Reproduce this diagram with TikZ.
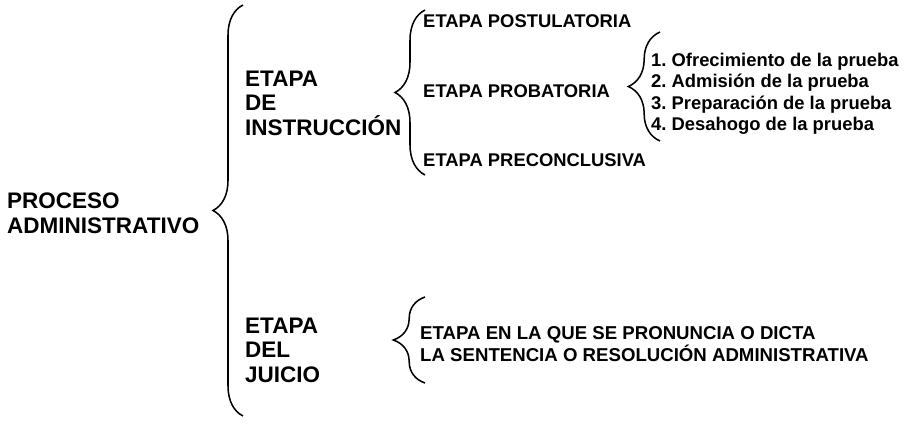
\documentclass[tikz,border=0pt]{standalone}
\usepackage{fontspec}
\setmainfont{Liberation Sans}
\frenchspacing
\usetikzlibrary{decorations.pathreplacing}
\usetikzlibrary{positioning}
\tikzset{brc/.style = {decorate, decoration = {brace, amplitude = #1}, line width = 1.3pt}}
\tikzset{biglbl/.style = {anchor = west, inner sep = 0, align = left, font = \fontsize{19.2}{21}\selectfont\bfseries}}
\tikzset{sublbl/.style = {anchor = west, inner sep = 0, align = left, font = \fontsize{15.7}{18.3}\selectfont\bfseries}}

\begin{document}
\begin{tikzpicture}[x=0.03cm, y=-0.03cm]
      \useasboundingbox (0, 0) rectangle (906, 423);
      \node [biglbl] (proc) at (7, 213) {PROCESO\\ADMINISTRATIVO};
      \node [biglbl] (instr) at (245, 103) {ETAPA\\DE\\INSTRUCCIÓN};
      \node [biglbl] (juicio) at (245, 350) {ETAPA\\DEL\\JUICIO};
      \node [sublbl] (post) at (423, 21) {ETAPA POSTULATORIA};
      \node [sublbl] (prob) at (423, 91) {ETAPA PROBATORIA};
      \node [sublbl] (prec) at (423, 160) {ETAPA PRECONCLUSIVA};
      \node [sublbl] (pasos) at (651, 94) {1. Ofrecimiento de la prueba\\2. Admisión de la prueba\\3. Preparación de la prueba\\4. Desahogo de la prueba};
      \node [sublbl, font = \fontsize{15.9}{18.8}\selectfont\bfseries] (sent) at (420, 344) {ETAPA EN LA QUE SE PRONUNCIA O DICTA\\LA SENTENCIA O RESOLUCIÓN ADMINISTRATIVA};

      \coordinate (proc-top) at (243, 5);
      \coordinate (proc-bot) at (243, 416);
      \coordinate (instr-top) at (425, 10);
      \coordinate (instr-bot) at (425, 175);
      \coordinate (prob-top) at (660, 32);
      \coordinate (prob-bot) at (660, 141);
      \coordinate (juicio-top) at (425, 297);
      \coordinate (juicio-bot) at (425, 383);
      \draw [brc = 0.9cm] (proc-bot) -- (proc-top);
      \draw [brc = 0.9cm] (instr-bot) -- (instr-top);
      \draw [brc = 0.95cm] (prob-bot) -- (prob-top);
      \draw [brc = 0.95cm] (juicio-bot) -- (juicio-top);

    \end{tikzpicture}
\end{document}
